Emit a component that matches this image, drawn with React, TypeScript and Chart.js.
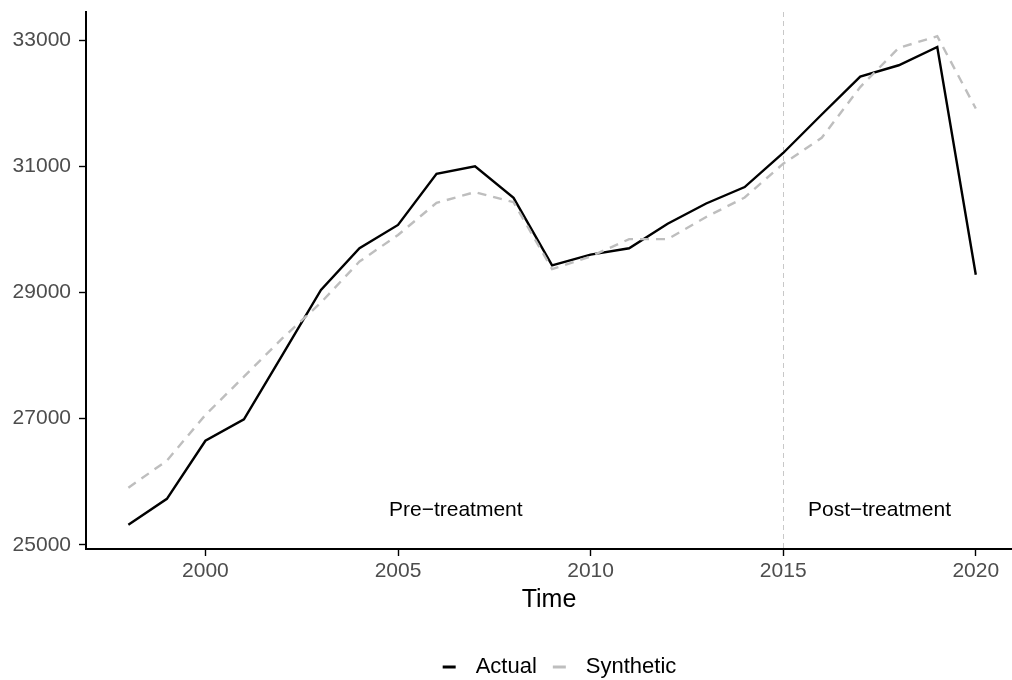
import React, { useEffect, useRef } from "react";
import { Chart, registerables } from "chart.js";

Chart.register(...registerables);

const years = [1998, 1999, 2000, 2001, 2002, 2003, 2004, 2005, 2006, 2007, 2008, 2009, 2010, 2011, 2012, 2013, 2014, 2015, 2016, 2017, 2018, 2019, 2020];
const actual = [25320, 25730, 26650, 26990, 28010, 29040, 29700, 30070, 30880, 31000, 30500, 29430, 29600, 29700, 30090, 30410, 30670, 31210, 31820, 32420, 32600, 32890, 29280];
const synthetic = [25905, 26335, 27060, 27665, 28275, 28840, 29490, 29910, 30420, 30590, 30430, 29370, 29570, 29845, 29845, 30195, 30505, 31040, 31450, 32255, 32875, 33060, 31915];

const xTickValues = [2000, 2005, 2010, 2015, 2020];
const yTickValues = [25000, 27000, 29000, 31000, 33000];

const treatmentYear = 2015;
const periodLabels = ["Pre\u2212treatment", "Post\u2212treatment"];
const periodLabelX = [2006.5, 2017.5];
const periodLabelY = 25555;
const seriesNames = ["Actual", "Synthetic"];
const seriesColors = ["#000000", "#bebebe"];
const xTitle = "Time";

const FONT = '"Liberation Sans", Arial, Helvetica, sans-serif';

export default function App() {
  const ref = useRef<HTMLCanvasElement>(null);

  useEffect(() => {
    document.body.style.margin = "0";
    const canvas = ref.current!;

    const overlay = {
      id: "overlay",
      beforeDatasetsDraw(chart: any) {
        const { ctx, chartArea } = chart;
        const xs = chart.scales.x;
        const px = xs.getPixelForValue(treatmentYear);
        ctx.save();
        ctx.strokeStyle = "#c8c8c8";
        ctx.lineWidth = 1;
        ctx.setLineDash([5, 4]);
        ctx.beginPath();
        ctx.moveTo(Math.round(px) + 0.5, chartArea.top);
        ctx.lineTo(Math.round(px) + 0.5, chartArea.bottom);
        ctx.stroke();
        ctx.restore();
      },
      afterDraw(chart: any) {
        const { ctx, chartArea } = chart;
        const xs = chart.scales.x;
        const ys = chart.scales.y;
        ctx.save();
        ctx.font = `21px ${FONT}`;
        ctx.fillStyle = "#000";
        ctx.textAlign = "center";
        ctx.textBaseline = "middle";
        periodLabels.forEach((t, i) => {
          ctx.fillText(t, xs.getPixelForValue(periodLabelX[i]), ys.getPixelForValue(periodLabelY));
        });
        ctx.font = `25px ${FONT}`;
        ctx.fillText(xTitle, (chartArea.left + chartArea.right) / 2, 600);
        ctx.font = `22px ${FONT}`;
        const keyW = 13;
        const keyGap = 20;
        const itemGap = 16;
        const widths = seriesNames.map((n) => ctx.measureText(n).width);
        const total = seriesNames.length * (keyW + keyGap) + widths.reduce((a, b) => a + b, 0) + itemGap * (seriesNames.length - 1);
        let x = 559.5 - total / 2;
        const ly = 667;
        ctx.textAlign = "left";
        seriesNames.forEach((n, i) => {
          ctx.strokeStyle = seriesColors[i];
          ctx.lineWidth = 3;
          ctx.setLineDash([]);
          ctx.beginPath();
          ctx.moveTo(x, ly);
          ctx.lineTo(x + keyW, ly);
          ctx.stroke();
          x += keyW + keyGap;
          ctx.fillStyle = "#000";
          ctx.fillText(n, x, ly);
          x += widths[i] + itemGap;
        });
        ctx.restore();
      },
    };

    const axisCommon = {
      grid: { drawOnChartArea: false, tickLength: 7, tickWidth: 1.4, tickColor: "#000" },
      border: { display: true, color: "#000", width: 2 },
    };

    const chart = new Chart(canvas, {
      type: "line",
      data: {
        datasets: [
          {
            label: seriesNames[0],
            data: years.map((x, i) => ({ x, y: actual[i] })),
            borderColor: seriesColors[0],
            borderWidth: 2.4,
            pointRadius: 0,
            fill: false,
            tension: 0,
            order: 1,
          },
          {
            label: seriesNames[1],
            data: years.map((x, i) => ({ x, y: synthetic[i] })),
            borderColor: seriesColors[1],
            borderWidth: 2.4,
            borderDash: [9, 7],
            pointRadius: 0,
            fill: false,
            tension: 0,
            order: 0,
          },
        ],
      },
      options: {
        responsive: false,
        animation: false,
        layout: { padding: { top: 12, right: 0, left: 0, bottom: 0 } },
        plugins: { legend: { display: false }, tooltip: { enabled: false } },
        scales: {
          x: {
            type: "linear",
            min: 1996.9,
            max: 2020.94,
            afterBuildTicks: (s: any) => {
              s.ticks = xTickValues.map((v) => ({ value: v }));
            },
            afterFit: (s: any) => {
              s.height = 131;
              s.paddingLeft = 0;
              s.paddingRight = 0;
            },
            ...axisCommon,
            ticks: {
              color: "#4d4d4d",
              font: { family: FONT, size: 21 },
              padding: 3,
              maxRotation: 0,
              autoSkip: false,
              callback: (v: any) => String(v),
            },
          },
          y: {
            type: "linear",
            min: 24935,
            max: 33444,
            afterBuildTicks: (s: any) => {
              s.ticks = yTickValues.map((v) => ({ value: v }));
            },
            afterFit: (s: any) => {
              s.width = 86;
              s.paddingTop = 0;
              s.paddingBottom = 0;
            },
            ...axisCommon,
            ticks: {
              color: "#4d4d4d",
              font: { family: FONT, size: 21 },
              padding: 8,
              autoSkip: false,
              callback: (v: any) => String(v),
            },
          },
        },
      },
      plugins: [overlay],
    } as any);

    return () => chart.destroy();
  }, []);

  return <canvas ref={ref} width={1012} height={680} style={{ display: "block" }} />;
}
